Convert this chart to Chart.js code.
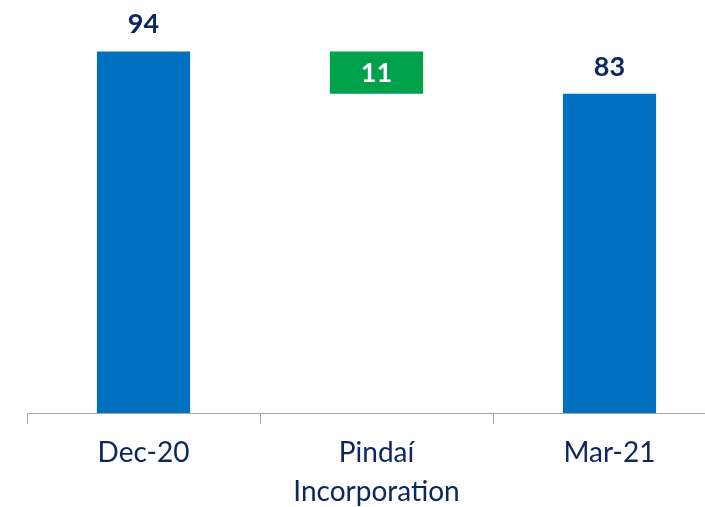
<!DOCTYPE html>
<html>
<head>
<meta charset="utf-8">
<script src="https://cdn.jsdelivr.net/npm/chart.js@4"></script>
<style>
  html, body { margin: 0; padding: 0; background: #fff; overflow: hidden; }
  #wrap { width: 730px; height: 507px; }
</style>
</head>
<body>
<div id="wrap"><canvas id="waterfall"></canvas></div>
<script>
// waterfall: start, change, end
const categories = ['Dec-20', ['Pindaí', 'Incorporation'], 'Mar-21'];
const barStarts = [0, 83, 0];
const barEnds = [94, 94, 83];
const barLabels = ['94', '11', '83'];
const barColors = ['#0070C0', '#00A14B', '#0070C0'];
const labelInside = [false, true, false];

const floating = barStarts.map((s, i) => [s, barEnds[i]]);

// draws the value labels (no datalabels plugin offline)
const valueLabels = {
    id: 'valueLabels',
    afterDatasetsDraw(chart) {
        const ctx = chart.ctx;
        const meta = chart.getDatasetMeta(0);
        ctx.save();
        ctx.textAlign = 'center';
        ctx.textBaseline = 'middle';
        ctx.font = 'bold 27px Lato';
        meta.data.forEach((bar, i) => {
            if (labelInside[i]) {
                ctx.fillStyle = '#FFFFFF';
                ctx.fillText(barLabels[i], bar.x, (bar.y + bar.base) / 2 + 1);
            } else {
                ctx.fillStyle = '#0D2760';
                ctx.fillText(barLabels[i], bar.x, bar.y - 27);
            }
        });
        ctx.restore();
    }
};

const ctx = document.getElementById('waterfall').getContext('2d');
new Chart(ctx, {
    type: 'bar',
    data: {
        labels: categories,
        datasets: [{ data: floating, backgroundColor: barColors, barPercentage: 0.4, categoryPercentage: 1.0 }]
    },
    options: {
        responsive: true, maintainAspectRatio: false, animation: false,
        layout: { padding: { left: 27, right: 4, top: 0, bottom: 0 } },
        plugins: { legend: { display: false }, tooltip: { enabled: false } },
        scales: {
            x: {
                offset: true,
                grid: { offset: true, drawOnChartArea: false, drawTicks: true, tickLength: 11, color: '#A6A6A6', lineWidth: 1 },
                border: { display: true, color: '#A6A6A6', width: 1 },
                ticks: { color: '#0D2760', font: { family: 'Lato', size: 28, lineHeight: 1.39 }, padding: 10, maxRotation: 0, autoSkip: false },
                afterFit: (s) => { s.height = 94; }
            },
            y: { display: false, min: 0, max: 107.4 }
        }
    },
    plugins: [valueLabels]
});
</script>
</body>
</html>
